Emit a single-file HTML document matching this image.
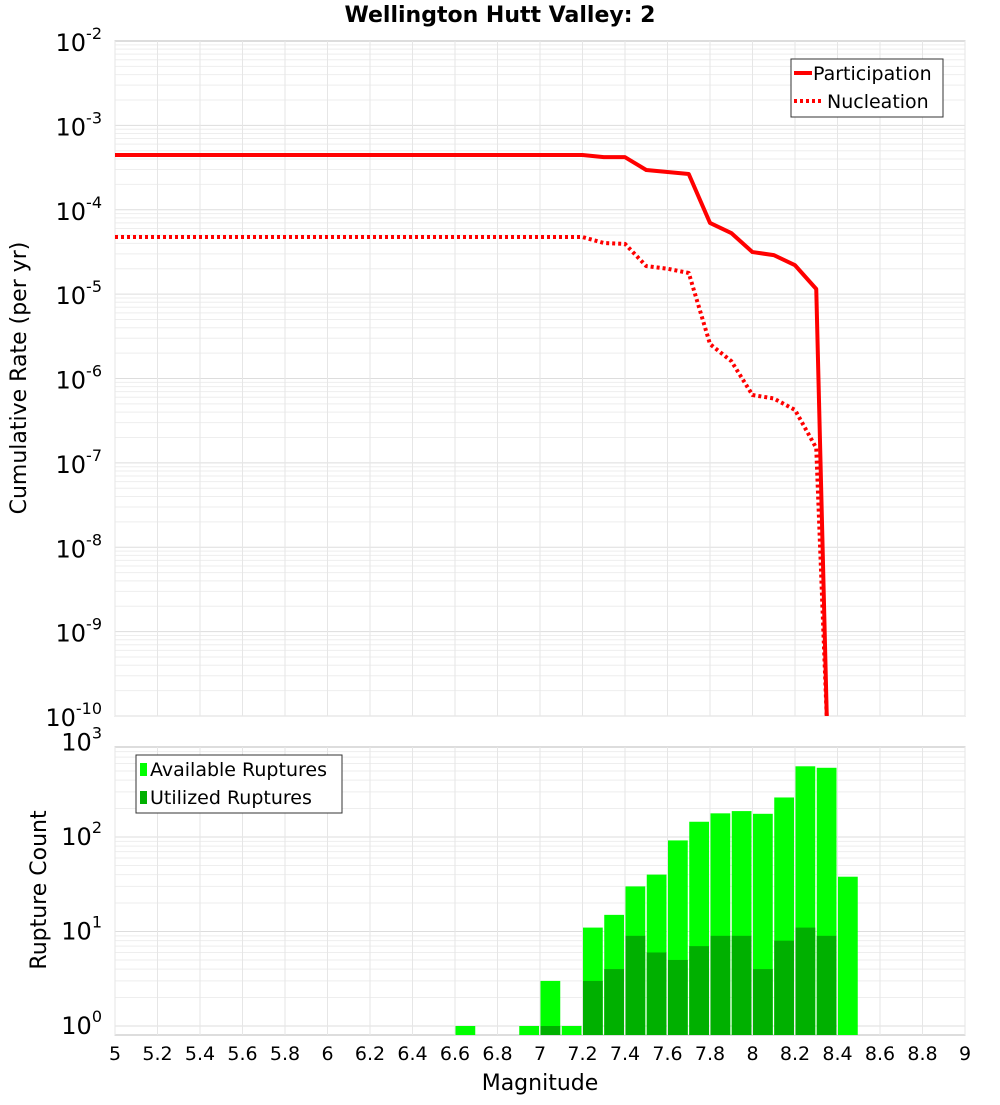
<!DOCTYPE html>
<html><head><meta charset="utf-8"><style>
body{margin:0;background:#fff;font-family:"Liberation Sans","DejaVu Sans",sans-serif}
svg text{font-family:"DejaVu Sans","Liberation Sans",sans-serif}
</style></head><body>
<svg id="chart" width="1000" height="1100" xmlns="http://www.w3.org/2000/svg">
<text x="500" y="22" text-anchor="middle" font-size="22" font-weight="bold">Wellington Hutt Valley: 2</text>
<g id="topPanel"></g><g id="botPanel"></g>
<text x="540" y="1090" text-anchor="middle" font-size="22">Magnitude</text>
<text transform="translate(26,378) rotate(-90)" text-anchor="middle" font-size="22">Cumulative Rate (per yr)</text>
<text transform="translate(46,890) rotate(-90)" text-anchor="middle" font-size="22">Rupture Count</text>
</svg>
<script>
const mags=[5,5.1,5.2,5.3,5.4,5.5,5.6,5.7,5.8,5.9,6,6.1,6.2,6.3,6.4,6.5,6.6,6.7,6.8,6.9,7,7.1,7.2,7.3,7.4,7.5,7.6,7.7,7.8,7.9,8,8.1,8.2,8.3,8.35];
const participation=[4.45e-4,4.45e-4,4.45e-4,4.45e-4,4.45e-4,4.45e-4,4.45e-4,4.45e-4,4.45e-4,4.45e-4,4.45e-4,4.45e-4,4.45e-4,4.45e-4,4.45e-4,4.45e-4,4.45e-4,4.45e-4,4.45e-4,4.45e-4,4.45e-4,4.45e-4,4.45e-4,4.2e-4,4.2e-4,2.96e-4,2.8e-4,2.65e-4,6.97e-5,5.3e-5,3.15e-5,2.9e-5,2.2e-5,1.15e-5,1e-12];
const nucleation=[4.75e-5,4.75e-5,4.75e-5,4.75e-5,4.75e-5,4.75e-5,4.75e-5,4.75e-5,4.75e-5,4.75e-5,4.75e-5,4.75e-5,4.75e-5,4.75e-5,4.75e-5,4.75e-5,4.75e-5,4.75e-5,4.75e-5,4.75e-5,4.75e-5,4.75e-5,4.75e-5,4.04e-5,3.94e-5,2.15e-5,2e-5,1.78e-5,2.56e-6,1.61e-6,6.37e-7,5.8e-7,4.24e-7,1.5e-7,1e-12];
const binMags=[6.6,6.9,7.0,7.1,7.2,7.3,7.4,7.5,7.6,7.7,7.8,7.9,8.0,8.1,8.2,8.3,8.4];
const available=[1,1,3,1,11,15,30,40,92,145,178,188,176,262,560,540,38];
const utilized=[0,0,1,0,3,4,9,6,5,7,9,9,4,8,11,9,0];
const xTicks=[5,5.2,5.4,5.6,5.8,6,6.2,6.4,6.6,6.8,7,7.2,7.4,7.6,7.8,8,8.2,8.4,8.6,8.8,9];
const topExps=[-2,-3,-4,-5,-6,-7,-8,-9,-10];
const botExps=[0,1,2,3];

const NS="http://www.w3.org/2000/svg";
const X0=115,X1=965;
const xS=m=>X0+(m-5)/4*(X1-X0);
const T0=41,T1=716;
const yT=v=>T0+(-2-Math.log10(v))*(T1-T0)/8;
const B0=747,B1=1035;
const yB=v=>1026-94.5*Math.log10(v);
function el(p,t,a){const e=document.createElementNS(NS,t);for(const k in a)e.setAttribute(k,a[k]);p.appendChild(e);return e;}
const topG=document.getElementById('topPanel'),botG=document.getElementById('botPanel');

// top panel
let r=el(topG,'rect',{x:X0,y:T0,width:X1-X0,height:T1-T0,fill:'#fff',stroke:'#bbb'});


for(let e=-10;e<-2;e++)for(let k=1;k<10;k++){const y=yT(k*Math.pow(10,e));const g=el(topG,'line',{x1:X0,x2:X1,y1:y,y2:y,stroke:k==1?'#ddd':'#eee','stroke-width':1});

}
xTicks.forEach(m=>{const g=el(topG,'line',{x1:xS(m),x2:xS(m),y1:T0,y2:T1,stroke:'#e6e6e6'});

});
topExps.forEach(e=>{const t=el(topG,'text',{x:102,y:yT(Math.pow(10,e))+10,'text-anchor':'end','font-size':24});


t.appendChild(document.createTextNode('10'));
const s=el(t,'tspan',{dy:-12,'font-size':16});s.textContent=String(e);});
function drawLine(p,vals,dash,name){const pts=mags.map((m,i)=>xS(m)+','+Math.min(yT(vals[i]),T1+5)).join(' ');
const a={points:pts,fill:'none',stroke:'#f00','stroke-width':4,'stroke-linejoin':'round'};if(dash)a['stroke-dasharray']='3,3';
const l=el(p,'polyline',a);

}
const defs=el(topG,'defs',{});
const clip=el(defs,'clipPath',{id:'tc'});el(clip,'rect',{x:X0,y:T0,width:X1-X0,height:T1-T0});
const lg=el(topG,'g',{'clip-path':'url(#tc)'});
drawLine(lg,nucleation,true,'nucleation-line');drawLine(lg,participation,false,'participation-line');
const tl=el(topG,'g',{});


el(tl,'rect',{x:791,y:59,width:152,height:58,fill:'#fff',stroke:'#333'});
el(tl,'line',{x1:794,x2:812,y1:73,y2:73,stroke:'#f00','stroke-width':4});
el(tl,'line',{x1:794,x2:822,y1:101,y2:101,stroke:'#f00','stroke-width':4,'stroke-dasharray':'3,3'});
let t=el(tl,'text',{x:813,y:80,'font-size':19});t.textContent='Participation';


t=el(tl,'text',{x:827,y:108,'font-size':19});t.textContent='Nucleation';



// bottom panel
r=el(botG,'rect',{x:X0,y:B0,width:X1-X0,height:B1-B0,fill:'#fff',stroke:'#bbb'});


for(let e=0;e<3;e++)for(let k=1;k<10;k++){const y=yB(k*Math.pow(10,e));if(y<B0)continue;const g=el(botG,'line',{x1:X0,x2:X1,y1:y,y2:y,stroke:k==1?'#ddd':'#eee'});

}
xTicks.forEach(m=>{const g=el(botG,'line',{x1:xS(m),x2:xS(m),y1:B0,y2:B1,stroke:'#e6e6e6'});

});
botExps.forEach(e=>{const t=el(botG,'text',{x:102,y:yB(Math.pow(10,e))+8,'text-anchor':'end','font-size':24});


t.appendChild(document.createTextNode('10'));
const s=el(t,'tspan',{dy:-12,'font-size':16});s.textContent=String(e);});
binMags.forEach((m,i)=>{const xl=xS(m)+0.5,w=xS(m+0.1)-xS(m)-1.5;
if(available[i]>0){const b=el(botG,'rect',{x:xl,y:yB(available[i]),width:w,height:B1-yB(available[i]),fill:'#00ff00'});

}
if(utilized[i]>0){const b=el(botG,'rect',{x:xl,y:yB(utilized[i]),width:w,height:B1-yB(utilized[i]),fill:'#00b000'});

}});
xTicks.forEach(m=>{const t=el(botG,'text',{x:xS(m),y:1060,'text-anchor':'middle','font-size':19});t.textContent=String(+m.toFixed(1));

});
const bl=el(botG,'g',{});


el(bl,'rect',{x:136,y:755,width:206,height:58,fill:'#fff',stroke:'#333'});
el(bl,'rect',{x:140,y:763,width:7,height:13,fill:'#00ff00'});
el(bl,'rect',{x:140,y:791,width:7,height:13,fill:'#00b000'});
t=el(bl,'text',{x:150,y:776,'font-size':19});t.textContent='Available Ruptures';


t=el(bl,'text',{x:150,y:804,'font-size':19});t.textContent='Utilized Ruptures';


</script>
</body></html>
